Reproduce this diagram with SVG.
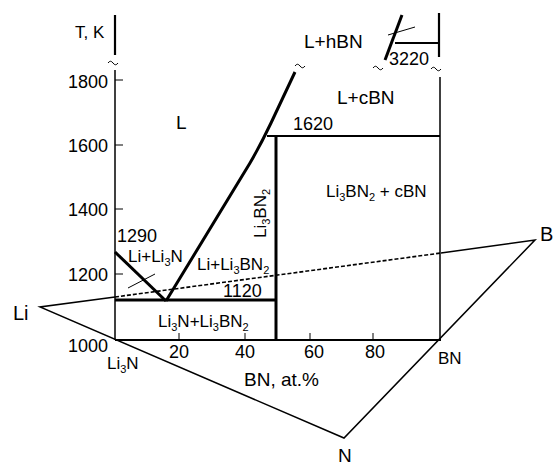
<svg xmlns="http://www.w3.org/2000/svg" width="554" height="467" viewBox="0 0 554 467">
<style>
text{font-family:"Liberation Sans",Arial,sans-serif;fill:#000}
.num{font-size:18px}
.lbl{font-size:17px}
.big{font-size:19px}
.sub{font-size:11px}
.thin{stroke:#000;stroke-width:1.5;fill:none}
.hair{stroke:#000;stroke-width:1;fill:none}
.thick{stroke:#000;stroke-width:3;fill:none}
.med{stroke:#000;stroke-width:2.2;fill:none}
.dash{stroke:#000;stroke-width:1.6;fill:none;stroke-dasharray:4 2}
</style>
<defs>
<path id="tilde" d="M-5,1 q2.5,-3.5 5,0 t5,0" stroke="#000" stroke-width="1" fill="none"/>
</defs>
<rect width="554" height="467" fill="#fff"/>

<g id="axes">
<line class="med" x1="115" y1="15" x2="115" y2="55"/>
<line class="thin" x1="115" y1="70" x2="115" y2="340"/>
<line class="med" x1="115" y1="340" x2="441" y2="340"/>
<line class="thin" x1="440" y1="77" x2="440" y2="340"/>
<line class="med" x1="439" y1="13" x2="439" y2="57"/>
<g class="hair">
<line x1="115" y1="80" x2="123" y2="80"/>
<line x1="115" y1="145" x2="123" y2="145"/>
<line x1="115" y1="209" x2="123" y2="209"/>
<line x1="115" y1="274" x2="123" y2="274"/>
<line x1="179" y1="340" x2="179" y2="333"/>
<line x1="245" y1="340" x2="245" y2="333"/>
<line x1="310" y1="340" x2="310" y2="333"/>
<line x1="373" y1="340" x2="373" y2="333"/>
</g>
<use href="#tilde" x="113" y="62"/>
<use href="#tilde" x="300" y="65"/>
<use href="#tilde" x="378" y="67"/>
<use href="#tilde" x="436" y="68"/>
</g>

<g id="connectors">
<path class="thick" d="M166,301 L250,163 Q261,144 271,123 L295,72"/>
<line class="thick" x1="115" y1="252" x2="166" y2="301"/>
<line class="thick" x1="115" y1="300" x2="277" y2="300"/>
<line class="thick" x1="276" y1="136" x2="276" y2="341"/>
<line class="med" x1="267" y1="136" x2="440" y2="136"/>
<line class="thick" x1="385" y1="60" x2="402" y2="15"/>
<line class="med" x1="395" y1="43" x2="439" y2="43"/>
<line class="hair" x1="388" y1="35" x2="415" y2="27"/>
<line class="hair" x1="128" y1="288" x2="155" y2="274"/>
<polyline class="thin" points="115,297 40,307 344,438 535,240 441,253"/>
<line class="dash" x1="115" y1="297" x2="441" y2="253"/>
</g>

<g id="labels">
<text class="lbl" x="75" y="38">T, K</text>
<g class="num" text-anchor="end">
<text x="108" y="88">1800</text>
<text x="108" y="152">1600</text>
<text x="108" y="216">1400</text>
<text x="108" y="281">1200</text>
<text x="108" y="352">1000</text>
</g>
<g class="num" text-anchor="middle">
<text x="179" y="358">20</text>
<text x="245" y="358">40</text>
<text x="314" y="358">60</text>
<text x="375" y="358">80</text>
</g>
<text class="num" x="389" y="65">3220</text>
<text class="num" x="293" y="130">1620</text>
<text class="num" x="117" y="242">1290</text>
<text class="num" x="223" y="297">1120</text>
<text class="big" x="304" y="48">L+hBN</text>
<text class="big" x="337" y="104">L+cBN</text>
<text class="big" x="176" y="129">L</text>
<text class="lbl" x="326" y="197">Li<tspan class="sub" dy="4">3</tspan><tspan dy="-4">BN</tspan><tspan class="sub" dy="4">2</tspan><tspan dy="-4"> + cBN</tspan></text>
<text class="lbl" transform="translate(266,238) rotate(-90)">Li<tspan class="sub" dy="4">3</tspan><tspan dy="-4">BN</tspan><tspan class="sub" dy="4">2</tspan></text>
<text class="lbl" x="128" y="262">Li+Li<tspan class="sub" dy="4">3</tspan><tspan dy="-4">N</tspan></text>
<text class="lbl" x="197" y="270">Li+Li<tspan class="sub" dy="4">3</tspan><tspan dy="-4">BN</tspan><tspan class="sub" dy="4">2</tspan></text>
<text class="lbl" x="158" y="327">Li<tspan class="sub" dy="4">3</tspan><tspan dy="-4">N+Li</tspan><tspan class="sub" dy="4">3</tspan><tspan dy="-4">BN</tspan><tspan class="sub" dy="4">2</tspan></text>
<text class="lbl" x="107" y="369">Li<tspan class="sub" dy="4">3</tspan><tspan dy="-4">N</tspan></text>
<text class="lbl" x="438" y="364">BN</text>
<text class="big" x="244" y="386">BN, at.%</text>
<text style="font-size:20px" x="13" y="320">Li</text>
<text style="font-size:20px" x="540" y="241">B</text>
<text style="font-size:19px" x="338" y="462">N</text>
</g>
</svg>
